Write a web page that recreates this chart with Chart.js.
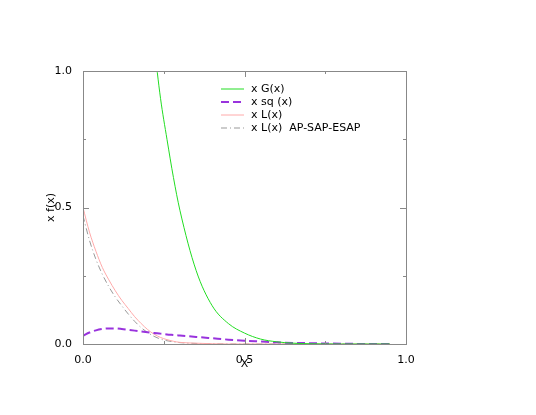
<!DOCTYPE html>
<html><head><meta charset="utf-8">
<script src="https://cdn.jsdelivr.net/npm/chart.js@4"></script>
<style>html,body{margin:0;padding:0;background:#fff}#w{width:536px;height:415px}</style>
</head><body><div id="w"><canvas id="c"></canvas></div>
<script>
const xs=[0,0.02,0.04,0.06,0.08,0.1,0.12,0.14,0.16,0.18,0.2,0.22,0.24,0.26,0.28,0.3,0.35,0.4,0.45,0.5,0.55,0.6,0.65,0.7,0.8,0.9,0.95];
const gVals=[null,null,null,null,null,null,null,null,null,null,1.33,1.1,0.9,0.75,0.61,0.49,0.27,0.14,0.075,0.04,0.018,0.008,0.003,0.001,0,0,0];
const sqVals=[0.03,0.042,0.05,0.055,0.057,0.057,0.055,0.052,0.049,0.046,0.043,0.04,0.038,0.035,0.033,0.031,0.026,0.021,0.016,0.012,0.009,0.006,0.004,0.003,0.001,0,0];
const lVals=[0.5,0.41,0.34,0.28,0.235,0.195,0.16,0.13,0.1,0.075,0.053,0.036,0.024,0.016,0.01,0.006,0.003,0.001,0,0,0,0,0,0,0,0,0];
const laVals=[0.47,0.38,0.31,0.255,0.21,0.172,0.14,0.11,0.083,0.06,0.042,0.028,0.018,0.012,0.008,0.005,0.002,0.001,0,0,0,0,0,0,0,0,0];
const labels=['x G(x)','x sq (x)','x L(x)','x L(x)  AP-SAP-ESAP'];
const tickLabels=['0.0','0.5','1.0'];
const pts=v=>xs.map((x,i)=>({x,y:v[i]})).filter(p=>p.y!==null);
const styles=[{c:'#22dd22',d:[],w:1},{c:'#9933dd',d:[8,4],w:2},{c:'#ffaaaa',d:[],w:1},{c:'#999999',d:[6,3,1,3],w:1}];
const ds=[gVals,sqVals,lVals,laVals].map((v,i)=>({label:labels[i],data:pts(v),borderColor:styles[i].c,borderDash:styles[i].d,borderWidth:styles[i].w,pointRadius:0,cubicInterpolationMode:'monotone',fill:false}));
const font={family:'DejaVu Sans',size:11};
const deco={id:'deco',afterDatasetsDraw(ch){const {ctx,chartArea:a,scales:{x,y}}=ch;ctx.save();ctx.strokeStyle='#888';ctx.lineWidth=1;
ctx.strokeRect(a.left+.5,a.top+.5,a.right-a.left,a.bottom-a.top);
for(let v=0;v<=1.0001;v+=0.25){const px=Math.round(x.getPixelForValue(v))+.5,py=Math.round(y.getPixelForValue(v))+.5;const L=(Math.abs(v*2-Math.round(v*2))<1e-6)?6:3;
ctx.beginPath();ctx.moveTo(px,a.bottom);ctx.lineTo(px,a.bottom-L);ctx.moveTo(px,a.top);ctx.lineTo(px,a.top+L);
ctx.moveTo(a.left,py);ctx.lineTo(a.left+L,py);ctx.moveTo(a.right,py);ctx.lineTo(a.right-L,py);ctx.stroke();}
ctx.font='11px DejaVu Sans';ctx.fillStyle='#000';ctx.textBaseline='middle';
labels.forEach((t,i)=>{const yy=89+i*13;ctx.strokeStyle=styles[i].c;ctx.lineWidth=styles[i].w;ctx.setLineDash(styles[i].d);ctx.beginPath();ctx.moveTo(221,yy);ctx.lineTo(244,yy);ctx.stroke();ctx.setLineDash([]);ctx.fillText(t,251,yy);});
ctx.restore();}};
new Chart(document.getElementById('c'),{type:'line',data:{datasets:ds},plugins:[deco],
options:{responsive:true,maintainAspectRatio:false,animation:false,layout:{padding:{top:71,right:130,left:45,bottom:44}},
plugins:{legend:{display:false},tooltip:{enabled:false}},
scales:{x:{type:'linear',min:0,max:1,grid:{display:false},border:{display:false},
ticks:{stepSize:0.5,color:'#000',font,maxRotation:0,padding:2,callback:(v)=>tickLabels[Math.round(v*2)]},
title:{display:true,text:'X',color:'#000',font,padding:0},afterFit:s=>{s.height=27}},
y:{min:0,max:1,grid:{display:false},border:{display:false},
ticks:{stepSize:0.5,color:'#000',font,padding:3,callback:(v)=>tickLabels[Math.round(v*2)]},
title:{display:true,text:'x f(x)',color:'#000',font,padding:0},afterFit:s=>{s.width=38}}}}});
</script></body></html>
